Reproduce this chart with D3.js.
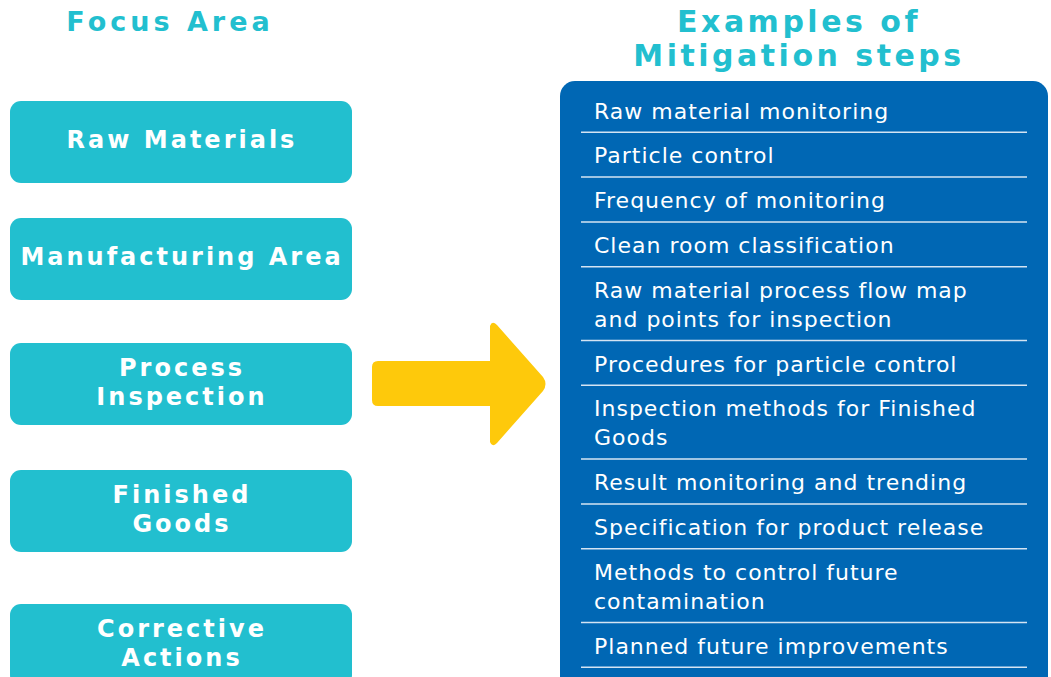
<!DOCTYPE html>
<html>
<head>
<meta charset="utf-8">
<script src="https://cdn.jsdelivr.net/npm/d3@7"></script>
<style>
  body { margin: 0; background: #fff; }
  svg { display: block; }
</style>
</head>
<body>
<svg id="chart" width="1051" height="677"></svg>
<script>
const width = 1051, height = 677;

// left column headings and boxes
const leftTitle = ["Focus Area"];
const focusAreas = [
  ["Raw Materials"],
  ["Manufacturing Area"],
  ["Process", "Inspection"],
  ["Finished", "Goods"],
  ["Corrective", "Actions"]
];

// right column
const rightTitle = ["Examples of", "Mitigation steps"];
const mitigationSteps = [
  ["Raw material monitoring"],
  ["Particle control"],
  ["Frequency of monitoring"],
  ["Clean room classification"],
  ["Raw material process flow map", "and points for inspection"],
  ["Procedures for particle control"],
  ["Inspection methods for Finished", "Goods"],
  ["Result monitoring and trending"],
  ["Specification for product release"],
  ["Methods to control future", "contamination"],
  ["Planned future improvements"]
];

const teal = "#22bfcf", blue = "#0067b4", yellow = "#fec90b";
const displayFont = "'DejaVu Sans', Verdana, sans-serif";

const svg = d3.select("#chart");

// --- LEFT SIDE ---
svg.append("text")
  .attr("x", 170).attr("y", 23)
  .attr("text-anchor", "middle")
  .attr("dominant-baseline", "middle")
  .attr("fill", teal)
  .style("font-family", displayFont)
  .style("font-weight", "bold")
  .style("font-size", "27px")
  .style("letter-spacing", "4px")
  .text(leftTitle[0]);

// box tops are not evenly spaced in the picture
const boxY = d3.scaleLinear()
  .domain([0, 1, 2, 3, 4])
  .range([101, 218, 343, 470, 604]);
const boxH = 82;

const boxes = svg.selectAll("g.focus")
  .data(focusAreas)
  .enter()
  .append("g")
  .attr("class", "focus")
  .attr("transform", (d, i) => `translate(10,${boxY(i)})`);

boxes.append("rect")
  .attr("width", 342)
  .attr("height", boxH)
  .attr("rx", 11)
  .attr("fill", teal);

boxes.each(function(d) {
  const g = d3.select(this);
  const lh = 29;
  const start = boxH / 2 - (d.length - 1) * lh / 2 - 1;
  g.selectAll("text")
    .data(d)
    .enter()
    .append("text")
    .attr("x", 172)
    .attr("y", (t, j) => start + j * lh)
    .attr("text-anchor", "middle")
    .attr("dominant-baseline", "middle")
    .attr("fill", "#fff")
    .style("font-family", displayFont)
    .style("font-weight", "bold")
    .style("font-size", "24px")
    .style("letter-spacing", "3px")
    .text(t => t);
});

// --- ARROW ---
const arrow = d3.path();
arrow.moveTo(378, 361);
arrow.lineTo(490, 361);
arrow.lineTo(490, 326);
arrow.quadraticCurveTo(492, 320, 497, 325);
arrow.lineTo(543, 377);
arrow.quadraticCurveTo(548, 384, 543, 391);
arrow.lineTo(497, 443);
arrow.quadraticCurveTo(492, 448, 490, 442);
arrow.lineTo(490, 406);
arrow.lineTo(378, 406);
arrow.quadraticCurveTo(372, 406, 372, 400);
arrow.lineTo(372, 367);
arrow.quadraticCurveTo(372, 361, 378, 361);
arrow.closePath();

svg.append("path")
  .attr("d", arrow.toString())
  .attr("fill", yellow);

// --- RIGHT SIDE ---
svg.append("g")
  .selectAll("text")
  .data(rightTitle)
  .enter()
  .append("text")
  .attr("x", 799)
  .attr("y", (d, i) => 23 + i * 34)
  .attr("text-anchor", "middle")
  .attr("dominant-baseline", "middle")
  .attr("fill", teal)
  .style("font-family", displayFont)
  .style("font-weight", "bold")
  .style("font-size", "30px")
  .style("letter-spacing", "3.5px")
  .text(d => d);

svg.append("rect")
  .attr("x", 560).attr("y", 81)
  .attr("width", 488).attr("height", 610)
  .attr("rx", 15)
  .attr("fill", blue);

// rows grow with their line count: ~45px for one line, +29 for each extra
const lineH = 29, rowBase = 44.8;
let acc = 0;
const rows = mitigationSteps.map(d => {
  const h = rowBase + (d.length - 1) * lineH;
  const r = { lines: d, top: acc, bottom: acc + h };
  acc += h;
  return r;
});
const rowY = d3.scaleLinear().domain([0, acc]).range([87.5, 87.5 + acc]);

const rowG = svg.selectAll("g.step")
  .data(rows)
  .enter()
  .append("g")
  .attr("class", "step");

rowG.append("line")
  .attr("x1", 581).attr("x2", 1027)
  .attr("y1", d => rowY(d.bottom))
  .attr("y2", d => rowY(d.bottom))
  .attr("stroke", "#d4e4f3")
  .attr("stroke-width", 1.5);

rowG.each(function(d) {
  d3.select(this).selectAll("text")
    .data(d.lines)
    .enter()
    .append("text")
    .attr("x", 594)
    .attr("y", (t, j) => rowY(d.top) + 25 + j * lineH)
    .attr("dominant-baseline", "middle")
    .attr("fill", "#fff")
    .style("font-family", "'DejaVu Sans', Verdana, sans-serif")
    .style("font-size", "22px")
    .style("letter-spacing", "1px")
    .text(t => t);
});
</script>
</body>
</html>
